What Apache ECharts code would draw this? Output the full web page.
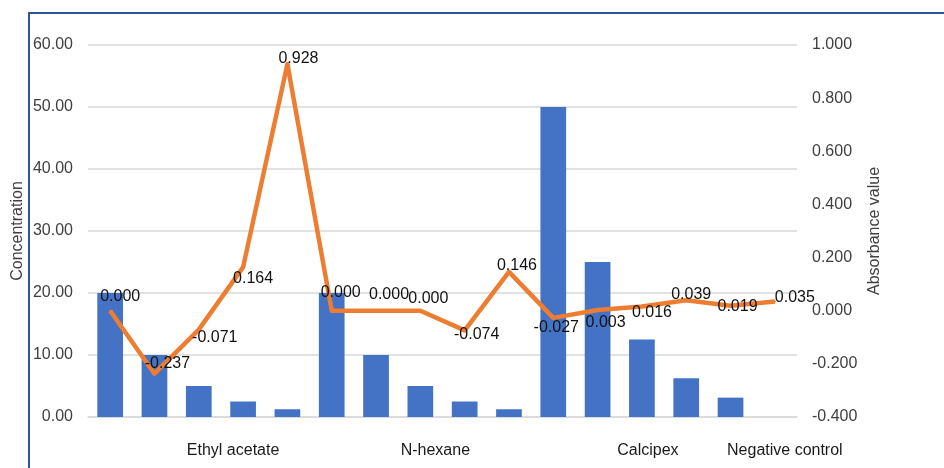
<!DOCTYPE html>
<html>
<head>
<meta charset="utf-8">
<script src="https://cdn.jsdelivr.net/npm/echarts@6/dist/echarts.min.js"></script>
<style>
html,body{margin:0;padding:0;background:#fff;}
#chart{width:944px;height:468px;}
</style>
</head>
<body>
<div id="chart"></div>
<script>
// ---- data ----
var categories = ['', '', '', 'Ethyl acetate', '', '', '', 'N-hexane', '', '', '', '', 'Calcipex', '', '', 'Negative control'];
var concentration = [20, 10, 5, 2.5, 1.25, 20, 10, 5, 2.5, 1.25, 50, 25, 12.5, 6.25, 3.125, null];
var absorbance = [0.000, -0.237, -0.071, 0.164, 0.928, 0.000, 0.000, 0.000, -0.074, 0.146, -0.027, 0.003, 0.016, 0.039, 0.019, 0.035];
var leftTicks = {min: 0, max: 60, interval: 10};
var rightTicks = {min: -0.4, max: 1.0, interval: 0.2};

// ---- style (label placement, not data) ----
var labelOffsets = [[10,-14],[13,-10],[16,8],[10,11],[11,-6],[9,-18],[13,-16],[8,-12],[12,4],[8,-6],[3,10],[8,13],[10,6],[5,-6],[7,1],[20,-4]];
var catLabelShift = {3: -10, 7: 15, 12: 6, 15: 10};

var font = 'Liberation Sans, Arial, sans-serif';
var xData = categories.map(function (c, i) {
  var s = catLabelShift[i] || 0;
  var pad = s >= 0 ? [0, 0, 0, 2 * s] : [0, -2 * s, 0, 0];
  return {value: c, textStyle: {padding: pad}};
});
var lineData = absorbance.map(function (v, i) {
  return {value: v, label: {offset: labelOffsets[i]}};
});

var chart = echarts.init(document.getElementById('chart'), null, {renderer: 'canvas'});
chart.setOption({
  animation: false,
  backgroundColor: '#ffffff',
  textStyle: {fontFamily: font},
  grid: {left: 88, right: 147, top: 45, bottom: 51, containLabel: false, outerBoundsMode: 'none'},
  graphic: [
    {type: 'line', shape: {x1: 29, y1: 13, x2: 29, y2: 470}, style: {stroke: '#2F5597', lineWidth: 2}},
    {type: 'line', shape: {x1: 28, y1: 13, x2: 946, y2: 13}, style: {stroke: '#2F5597', lineWidth: 2}}
  ],
  xAxis: {
    type: 'category',
    data: xData,
    axisTick: {show: false},
    axisLine: {lineStyle: {color: '#d9d9d9', width: 1.5}},
    axisLabel: {interval: 0, color: '#1a1a1a', fontSize: 16, margin: 26, fontFamily: font}
  },
  yAxis: [
    {
      type: 'value', min: leftTicks.min, max: leftTicks.max, interval: leftTicks.interval,
      name: 'Concentration', nameLocation: 'middle', nameGap: 62, nameRotate: 90, nameMoveOverlap: false,
      nameTextStyle: {fontSize: 16, color: '#404040', fontFamily: font},
      axisLine: {show: false}, axisTick: {show: false},
      axisLabel: {color: '#404040', fontSize: 16, margin: 15, fontFamily: font,
        formatter: function (v) { return v.toFixed(2); }},
      splitLine: {lineStyle: {color: '#d9d9d9', width: 1.5}}
    },
    {
      type: 'value', min: rightTicks.min, max: rightTicks.max, interval: rightTicks.interval,
      name: 'Absorbance value', nameLocation: 'middle', nameGap: 70, nameRotate: 90, nameMoveOverlap: false,
      nameTextStyle: {fontSize: 16, color: '#404040', fontFamily: font},
      axisLine: {show: false}, axisTick: {show: false},
      axisLabel: {color: '#404040', fontSize: 16, margin: 15, fontFamily: font,
        formatter: function (v) { return v.toFixed(3); }},
      splitLine: {show: false}
    }
  ],
  series: [
    {
      type: 'bar', yAxisIndex: 0, data: concentration,
      barCategoryGap: '42%',
      itemStyle: {color: '#4472C4'}
    },
    {
      type: 'line', yAxisIndex: 1, data: lineData,
      symbol: 'circle', symbolSize: 2, showSymbol: true,
      lineStyle: {color: '#ED7D31', width: 4.5, join: 'round'},
      itemStyle: {color: '#ED7D31'},
      label: {
        show: true, position: 'inside', align: 'center', verticalAlign: 'middle',
        color: '#111111', fontSize: 16, fontFamily: font,
        formatter: function (p) { return p.value.toFixed(3); }
      }
    }
  ]
});
</script>
</body>
</html>
